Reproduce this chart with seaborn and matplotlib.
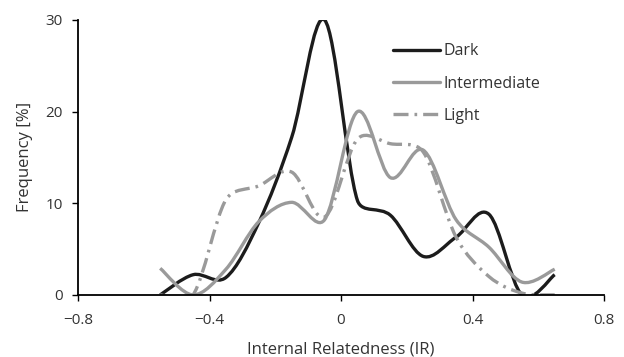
import numpy as np
import matplotlib
matplotlib.use("Agg")
import matplotlib.pyplot as plt
from matplotlib.path import Path
from matplotlib.patches import PathPatch
from matplotlib.lines import Line2D
import seaborn as sns

# bin centres of internal relatedness and frequency [%] per colour morph
ir_bins = [-0.55, -0.45, -0.35, -0.25, -0.15, -0.05, 0.05, 0.15, 0.25, 0.35, 0.45, 0.55, 0.65]
dark = [0.0, 2.2, 1.9, 7.9, 17.2, 30.0, 10.3, 8.7, 4.2, 6.3, 8.8, 0.0, 2.2]
intermediate = [2.9, 0.0, 2.8, 8.0, 10.1, 8.2, 20.0, 12.8, 15.8, 8.2, 5.2, 1.4, 2.8]
light = [0.0, 0.0, 10.4, 11.9, 13.4, 8.5, 17.0, 16.5, 15.6, 6.3, 2.0, 0.2, 0.0]

series = [
    ("Dark", dark, "#1c1c1c", "-"),
    ("Intermediate", intermediate, "#9a9a9a", "-"),
    ("Light", light, "#9a9a9a", (0, (4.5, 1.8, 0.8, 1.8))),
]


def smooth_path(ax, xs, ys, k=0.4):
    # excel-like smoothed line: cubic bezier through every data point,
    # handle length clamped (in pixels) so steep drops don't overshoot
    pts = ax.transData.transform(np.column_stack([xs, ys]))
    padded = np.vstack([pts[0], pts, pts[-1]])
    verts = [pts[0]]
    codes = [Path.MOVETO]

    def clamp(v, seg):
        n = np.hypot(*v)
        lim = k * seg
        return v if n <= lim or n == 0 else v * lim / n

    for i in range(len(pts) - 1):
        p0, p1, p2, p3 = padded[i], padded[i + 1], padded[i + 2], padded[i + 3]
        seg = np.hypot(*(p2 - p1))
        c1 = p1 + clamp((p2 - p0) / 6, seg)
        c2 = p2 - clamp((p3 - p1) / 6, seg)
        verts += [c1, c2, p2]
        codes += [Path.CURVE4] * 3
    verts = ax.transData.inverted().transform(np.array(verts))
    return Path(verts, codes)


sns.set_style("ticks")
plt.rcParams["font.family"] = ["Open Sans", "DejaVu Sans"]

fig = plt.figure(figsize=(6.24, 3.57), dpi=100)
ax = fig.add_axes([0.125, 0.174, 0.843, 0.770])
ax.set_xlim(-0.8, 0.8)
ax.set_ylim(0, 30)

lw = 2.4
handles = []
for name, vals, color, ls in series:
    sns.lineplot(x=ir_bins, y=vals, ax=ax, color=color, legend=False)
    line = ax.lines[-1]
    x, y = line.get_data()
    line.set_visible(False)
    ax.add_patch(PathPatch(smooth_path(ax, x, y), fill=False, edgecolor=color,
                           lw=lw, linestyle=ls, capstyle="butt", joinstyle="round"))
    handles.append(Line2D([], [], color=color, lw=lw, linestyle=ls, label=name))

ax.set_xlim(-0.8, 0.8)
ax.set_ylim(0, 30)
ax.set_xticks([-0.8, -0.4, 0, 0.4, 0.8])
ax.set_xticklabels(["\u22120.8", "\u22120.4", "0", "0.4", "0.8"])
ax.set_yticks([0, 10, 20, 30])

sns.despine(ax=ax)
for s in ["left", "bottom"]:
    ax.spines[s].set_color("black")
    ax.spines[s].set_linewidth(1.3)
ax.tick_params(direction="out", length=4, width=1.0, color="black",
               labelsize=11, labelcolor="#333333")
ax.tick_params(axis="x", pad=9)
ax.tick_params(axis="y", pad=7)

ax.set_xlabel("Internal Relatedness (IR)", fontsize=12, color="#333333", labelpad=10)
ax.set_ylabel("Frequency [%]", fontsize=12, color="#333333", labelpad=9)

ax.legend(handles=handles, loc="upper left", bbox_to_anchor=(0.571, 0.968),
          frameon=False, fontsize=11.5, handlelength=2.95, handletextpad=0.2,
          labelspacing=1.03, labelcolor="#333333")

fig.savefig("out.png", dpi=100)
